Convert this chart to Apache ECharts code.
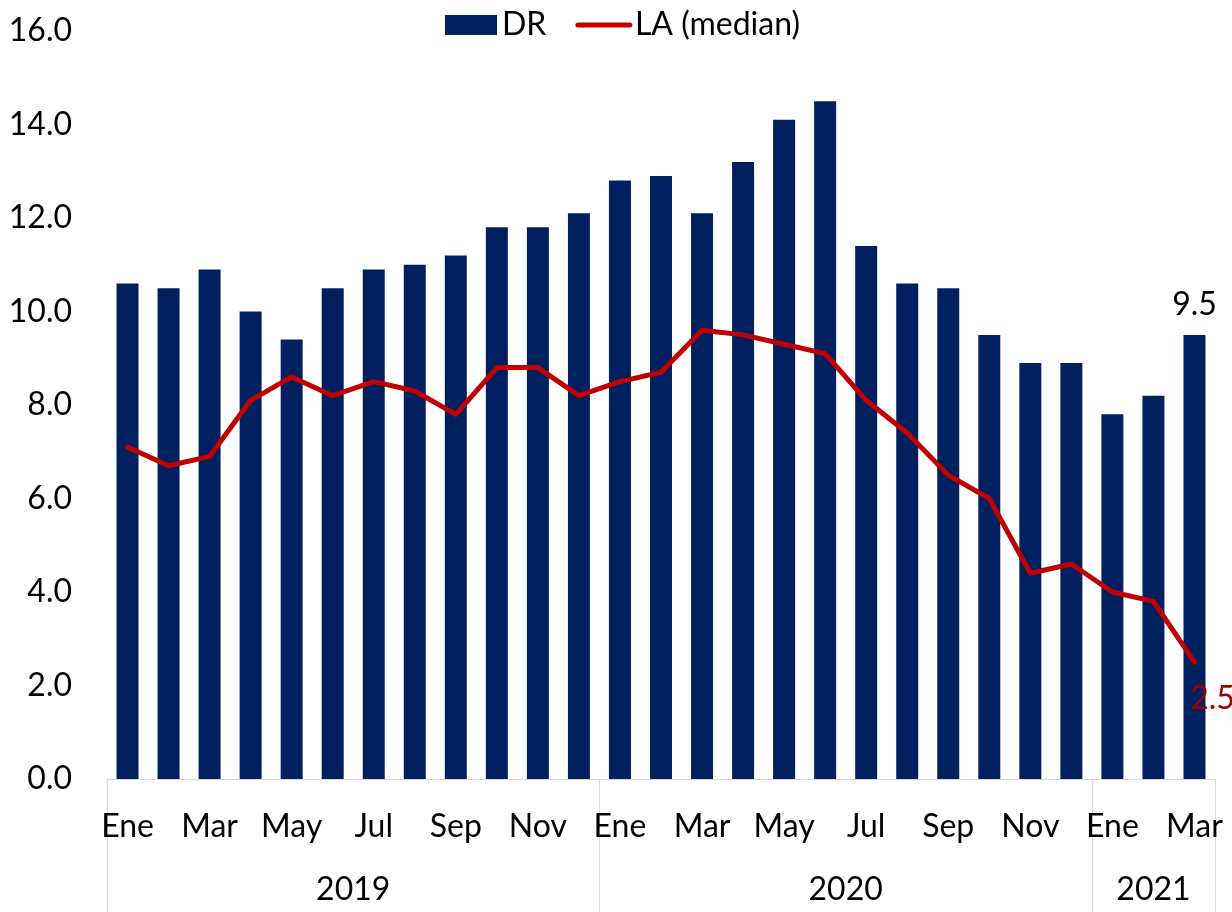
<!DOCTYPE html>
<html>
<head>
<meta charset="utf-8">
<script src="https://cdn.jsdelivr.net/npm/echarts@6/dist/echarts.min.js"></script>
<style>
    html, body {margin: 0; padding: 0; background: #fff;}
    #chart {width: 1232px; height: 912px;}
</style>
</head>
<body>
<div id="chart"></div>
<script>
const months = [
    'Ene', 'Feb', 'Mar', 'Abr', 'May', 'Jun', 'Jul', 'Ago', 'Sep', 'Oct', 'Nov', 'Dic',
    'Ene', 'Feb', 'Mar', 'Abr', 'May', 'Jun', 'Jul', 'Ago', 'Sep', 'Oct', 'Nov', 'Dic',
    'Ene', 'Feb', 'Mar'
];
const years = ['2019', '2020', '2021'];
const monthsPerYear = [12, 12, 3];

const drValues = [
    10.6, 10.5, 10.9, 10.0, 9.4, 10.5, 10.9, 11.0, 11.2, 11.8, 11.8, 12.1,
    12.8, 12.9, 12.1, 13.2, 14.1, 14.5, 11.4, 10.6, 10.5, 9.5, 8.9, 8.9,
    7.8, 8.2, 9.5
];
const laValues = [
    7.1, 6.7, 6.9, 8.1, 8.6, 8.2, 8.5, 8.3, 7.8, 8.8, 8.8, 8.2,
    8.5, 8.7, 9.6, 9.5, 9.3, 9.1, 8.1, 7.4, 6.5, 6.0, 4.4, 4.6,
    4.0, 3.8, 2.5
];
const yTicks = [0, 2, 4, 6, 8, 10, 12, 14, 16];

const FONT = 'Lato';
const GREY = '#d9d9d9';

// separators and year centres on a 0..27 value scale
let yearBounds = [0];
let yearMids = [];
monthsPerYear.forEach(function (n) {
    let start = yearBounds[yearBounds.length - 1];
    yearMids.push(start + n / 2);
    yearBounds.push(start + n);
});

const last = drValues.length - 1;

let chart = echarts.init(document.getElementById('chart'));
let option = {
    backgroundColor: '#fff',
    animation: false,
    textStyle: {fontFamily: FONT},
    legend: {
        top: 4,
        left: 440,
        itemWidth: 52,
        itemHeight: 20,
        itemGap: 29,
        textStyle: {fontFamily: FONT, fontSize: 32, color: '#000'},
        data: [
            {name: 'DR', icon: 'rect'},
            // hide the dot, keep the line
            {name: 'LA (median)', itemStyle: {opacity: 0}, lineStyle: {width: 5, cap: 'round'}}
        ]
    },
    grid: {left: 107, right: 17, top: 31, bottom: 133},
    xAxis: [
        {
            type: 'category',
            data: months,
            axisLine: {lineStyle: {color: GREY, width: 1}},
            axisTick: {show: false},
            axisLabel: {
                interval: 1,
                margin: 32,
                fontFamily: FONT,
                fontSize: 32,
                color: '#000'
            }
        },
        {
            type: 'value',
            position: 'bottom',
            min: 0,
            max: yearBounds[yearBounds.length - 1],
            axisLine: {show: false},
            splitLine: {show: false},
            axisTick: {
                show: true,
                customValues: yearBounds,
                length: 140,
                lineStyle: {color: GREY, width: 1}
            },
            axisLabel: {
                customValues: yearMids,
                margin: 95,
                fontFamily: FONT,
                fontSize: 32,
                color: '#000',
                formatter: function (v) {
                    return years[yearMids.indexOf(v)];
                }
            }
        }
    ],
    yAxis: {
        type: 'value',
        min: yTicks[0],
        max: yTicks[yTicks.length - 1],
        interval: 2,
        axisLine: {show: false},
        axisTick: {show: false},
        splitLine: {show: false},
        axisLabel: {
            margin: 35,
            fontFamily: FONT,
            fontSize: 32,
            color: '#000',
            formatter: function (v) {
                return v.toFixed(1);
            }
        }
    },
    series: [
        {
            name: 'DR',
            type: 'bar',
            barWidth: 22,
            itemStyle: {color: '#002060'},
            data: drValues.map(function (v, i) {
                if (i !== last) return v;
                return {
                    value: v,
                    label: {
                        show: true,
                        position: 'top',
                        distance: 14,
                        fontFamily: FONT,
                        fontSize: 32,
                        color: '#000',
                        formatter: function (p) { return p.value.toFixed(1); }
                    }
                };
            })
        },
        {
            name: 'LA (median)',
            type: 'line',
            symbol: 'none',
            lineStyle: {color: '#c00000', width: 5, cap: 'round', join: 'round'},
            itemStyle: {color: '#c00000'},
            data: laValues,
            // last value label
            markPoint: {
                symbol: 'circle',
                symbolSize: 1,
                itemStyle: {color: 'rgba(0,0,0,0)'},
                label: {
                    show: true,
                    position: 'bottom',
                    distance: 20,
                    offset: [18, 0],
                    fontFamily: FONT,
                    fontSize: 32,
                    color: '#a00000',
                    formatter: function (p) { return p.value.toFixed(1); }
                },
                data: [{coord: [last, laValues[last]], value: laValues[last]}]
            }
        }
    ]
};
option && chart.setOption(option);
</script>
</body>
</html>
